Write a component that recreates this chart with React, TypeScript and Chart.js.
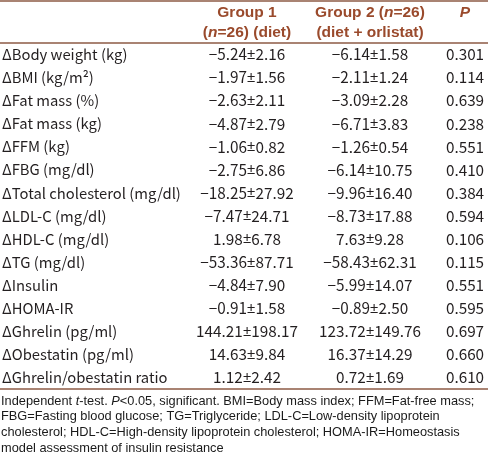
import { useEffect, useRef } from 'react';
import { Chart, registerables } from 'chart.js';

Chart.register(...registerables);

const rowLabels = [
  'ΔBody weight (kg)',
  'ΔBMI (kg/m²)',
  'ΔFat mass (%)',
  'ΔFat mass (kg)',
  'ΔFFM (kg)',
  'ΔFBG (mg/dl)',
  'ΔTotal cholesterol (mg/dl)',
  'ΔLDL-C (mg/dl)',
  'ΔHDL-C (mg/dl)',
  'ΔTG (mg/dl)',
  'ΔInsulin',
  'ΔHOMA-IR',
  'ΔGhrelin (pg/ml)',
  'ΔObestatin (pg/ml)',
  'ΔGhrelin/obestatin ratio',
];

const group1Mean = [-5.24, -1.97, -2.63, -4.87, -1.06, -2.75, -18.25, -7.47, 1.98, -53.36, -4.84, -0.91, 144.21, 14.63, 1.12];
const group1SD = [2.16, 1.56, 2.11, 2.79, 0.82, 6.86, 27.92, 24.71, 6.78, 87.71, 7.9, 1.58, 198.17, 9.84, 2.42];
const group2Mean = [-6.14, -2.11, -3.09, -6.71, -1.26, -6.14, -9.96, -8.73, 7.63, -58.43, -5.99, -0.89, 123.72, 16.37, 0.72];
const group2SD = [1.58, 1.24, 2.28, 3.83, 0.54, 10.75, 16.4, 17.88, 9.28, 62.31, 14.07, 2.5, 149.76, 14.29, 1.69];
const pValues = [0.301, 0.114, 0.639, 0.238, 0.551, 0.41, 0.384, 0.594, 0.106, 0.115, 0.551, 0.595, 0.697, 0.66, 0.61];

type Seg = { t: string; i?: boolean; f?: string };

const header1: Seg[][] = [[{ t: 'Group 1' }], [{ t: '(' }, { t: 'n', i: true }, { t: '=26) (diet)' }]];
const header2: Seg[][] = [[{ t: 'Group 2 (' }, { t: 'n', i: true }, { t: '=26)' }], [{ t: '(diet + orlistat)' }]];
const header3: Seg[][] = [[{ t: 'P', i: true }]];

const footnote: Seg[][] = [
  [{ t: 'Independent ' }, { t: 't', i: true }, { t: '-test. ' }, { t: 'P', i: true }, { t: '<0.05, significant. BMI=Body mass index; FFM=Fat-free mass;' }],
  [{ t: 'FBG=Fasting blood glucose; TG=Triglyceride; LDL-C=Low-density lipoprotein' }],
  [{ t: 'cholesterol; HDL-C=High-density lipoprotein cholesterol; HOMA-IR=Homeostasis' }],
  [{ t: 'model assessment of insulin resistance' }],
];

const BODY_FONT = '"Noto Sans CJK JP", "Noto Sans", sans-serif';
const PM_FONT = '"Noto Sans", "DejaVu Sans", sans-serif';
const HEAD_FONT = '"Liberation Sans", Arial, sans-serif';
const BODY_COLOR = '#231f20';
const HEAD_COLOR = '#9a4a2c';
const RULE_COLOR = '#8c5a44';

const fmt = (v: number, d: number) => (v < 0 ? '\u2212' : '') + Math.abs(v).toFixed(d);
const pmCell = (m: number, s: number): Seg[] => [{ t: fmt(m, 2) }, { t: '±', f: PM_FONT }, { t: s.toFixed(2) }];
const cellLabel: Seg[][] = rowLabels.map((t) => [{ t }]);
const cellG1: Seg[][] = group1Mean.map((m, i) => pmCell(m, group1SD[i]));
const cellG2: Seg[][] = group2Mean.map((m, i) => pmCell(m, group2SD[i]));
const cellP: Seg[][] = pValues.map((p) => [{ t: p.toFixed(3) }]);

// column anchor positions along the (hidden) x axis
const columnX = [2, 247, 370, 465];

function drawRich(ctx: CanvasRenderingContext2D, segs: Seg[], x: number, y: number, align: 'left' | 'center', base: string, size: number, weight: string) {
  const fontFor = (s: Seg) => `${s.i ? 'italic ' : ''}${weight} ${size}px ${s.f || base}`;
  let total = 0;
  for (const s of segs) {
    ctx.font = fontFor(s);
    total += ctx.measureText(s.t).width;
  }
  let cx = align === 'center' ? x - total / 2 : x;
  ctx.textAlign = 'left';
  for (const s of segs) {
    ctx.font = fontFor(s);
    ctx.fillText(s.t, cx, y);
    cx += ctx.measureText(s.t).width;
  }
}

const tablePlugin = {
  id: 'tablePlugin',
  afterDatasetsDraw(chart: any) {
    const ctx: CanvasRenderingContext2D = chart.ctx;
    const area = chart.chartArea;
    const xs = chart.scales.x;
    const W = chart.width;
    ctx.save();
    // rules
    ctx.strokeStyle = RULE_COLOR;
    ctx.lineWidth = 1.5;
    [1, area.top, area.bottom].forEach((yy: number) => {
      ctx.beginPath();
      ctx.moveTo(0, yy);
      ctx.lineTo(W, yy);
      ctx.stroke();
    });
    // header
    ctx.fillStyle = HEAD_COLOR;
    ctx.textBaseline = 'middle';
    const headers = [header1, header2, header3];
    headers.forEach((h, c) => {
      const cx = xs.getPixelForValue(columnX[c + 1]);
      h.forEach((line, li) => {
        drawRich(ctx, line, cx, area.top - 30 + li * 20, 'center', HEAD_FONT, 15.5, 'bold');
      });
    });
    // body cells from dataset elements
    ctx.fillStyle = BODY_COLOR;
    chart.data.datasets.forEach((ds: any, d: number) => {
      const meta = chart.getDatasetMeta(d);
      meta.data.forEach((el: any, i: number) => {
        drawRich(ctx, ds.cellText[i], el.x, el.y, d === 0 ? 'left' : 'center', BODY_FONT, d === 0 ? 14.8 : 15.3, '400');
      });
    });
    // footnote
    ctx.fillStyle = '#1a1a1a';
    footnote.forEach((line, li) => {
      drawRich(ctx, line, 1, area.bottom + 12 + li * 15.7, 'left', HEAD_FONT, 12.8, '400');
    });
    ctx.restore();
  },
};

export default function App() {
  const ref = useRef<HTMLCanvasElement>(null);
  useEffect(() => {
    document.body.style.margin = '0';
    const cols = [cellLabel, cellG1, cellG2, cellP];
    const chart = new Chart(ref.current!, {
      type: 'scatter',
      data: {
        datasets: cols.map((texts, c) => ({
          label: ['Variable', 'Group 1', 'Group 2', 'P'][c],
          data: texts.map((_, i) => ({ x: columnX[c], y: i })),
          cellText: texts,
          pointRadius: 0,
          pointHoverRadius: 0,
        })) as any,
      },
      options: {
        responsive: false,
        maintainAspectRatio: false,
        animation: false,
        layout: { padding: { top: 43, bottom: 67, left: 0, right: 0 } },
        plugins: { legend: { display: false }, tooltip: { enabled: false } },
        scales: {
          x: { type: 'linear', min: 0, max: 488, display: false },
          y: { type: 'linear', min: -0.5, max: 14.5, reverse: true, display: false },
        },
      },
      plugins: [tablePlugin],
    });
    return () => chart.destroy();
  }, []);
  return <canvas ref={ref} width={488} height={456} style={{ display: 'block' }} />;
}
